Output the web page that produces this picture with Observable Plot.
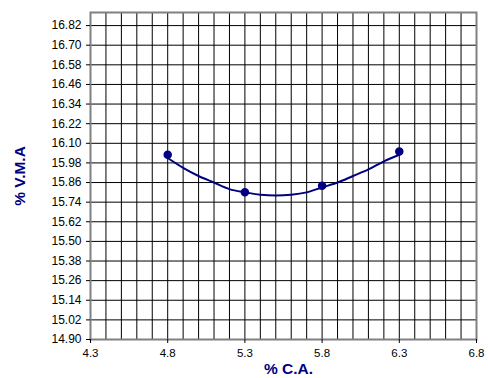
<!DOCTYPE html>
<html><head><meta charset="utf-8">
<script src="https://cdn.jsdelivr.net/npm/d3@7"></script>
<script src="https://cdn.jsdelivr.net/npm/@observablehq/plot@0.6"></script>
<style>body{margin:0;background:#fff}</style>
</head><body><div id="chart"></div>
<script>
// Measured points
const ca = [4.8, 5.3, 5.8, 6.3];
const vma = [16.03, 15.80, 15.84, 16.05];
// Trend curve
const curveX = [4.8, 4.9, 5.0, 5.1, 5.2, 5.3, 5.4, 5.5, 5.6, 5.7, 5.8, 5.9, 6.0, 6.1, 6.2, 6.3];
const curveY = [16.01, 15.95, 15.90, 15.86, 15.82, 15.80, 15.785, 15.78, 15.785, 15.80, 15.83, 15.86, 15.90, 15.94, 15.99, 16.03];
// Axis ticks
const xTicks = [4.3, 4.8, 5.3, 5.8, 6.3, 6.8];
const yTicks = [14.90, 15.02, 15.14, 15.26, 15.38, 15.50, 15.62, 15.74, 15.86, 15.98, 16.10, 16.22, 16.34, 16.46, 16.58, 16.70, 16.82];
const xGrid = [4.4,4.5,4.6,4.7,4.8,4.9,5.0,5.1,5.2,5.3,5.4,5.5,5.6,5.7,5.8,5.9,6.0,6.1,6.2,6.3,6.4,6.5,6.6,6.7];

const points = ca.map((x, i) => ({x, y: vma[i]}));
const curve = curveX.map((x, i) => ({x, y: curveY[i]}));
const navy = "#000080";

const chart = Plot.plot({
  width: 488, height: 378,
  marginLeft: 90, marginRight: 12, marginTop: 12, marginBottom: 39,
  style: {fontFamily: "Arial, 'Liberation Sans', sans-serif", color: "#000", background: "#fff"},
  x: {domain: [4.3, 6.8]},
  y: {domain: [14.9, 16.9]},
  marks: [
    Plot.ruleX(xGrid, {stroke: "#000", strokeWidth: 1, strokeOpacity: 1}),
    Plot.ruleY(yTicks.slice(1), {stroke: "#000", strokeWidth: 1, strokeOpacity: 1}),
    Plot.frame({stroke: "#808080", strokeWidth: 2}),
    Plot.axisX({ticks: xTicks, tickFormat: d => d.toFixed(1), tickSize: 4, tickPadding: 5, label: null}),
    Plot.axisY({ticks: yTicks, tickFormat: d => d.toFixed(2), tickSize: 4, tickPadding: 5, label: null}),
    Plot.line(curve, {x: "x", y: "y", stroke: navy, strokeWidth: 2, curve: "catmull-rom"}),
    Plot.dot(points, {x: "x", y: "y", r: 3.5, fill: navy, stroke: navy}),
    Plot.text(["% V.M.A"], {frameAnchor: "left", dx: -70, rotate: -90, textAnchor: "middle", lineAnchor: "middle", fill: navy, fontWeight: "bold", fontSize: 15.5}),
    Plot.text(["% C.A."], {frameAnchor: "bottom", dx: 5, dy: 30, textAnchor: "middle", lineAnchor: "middle", fill: navy, fontWeight: "bold", fontSize: 15.5})
  ]
});
d3.select(chart).selectAll("text")
  .filter(function() { return /^\d+\.\d\d$/.test(this.textContent.trim()); })
  .style("font-size", "12px");
d3.select(chart).selectAll("text")
  .filter(function() { return /^\d+\.\d$/.test(this.textContent.trim()); })
  .style("font-size", "11.5px");
document.getElementById("chart").appendChild(chart);
</script>
</body></html>
